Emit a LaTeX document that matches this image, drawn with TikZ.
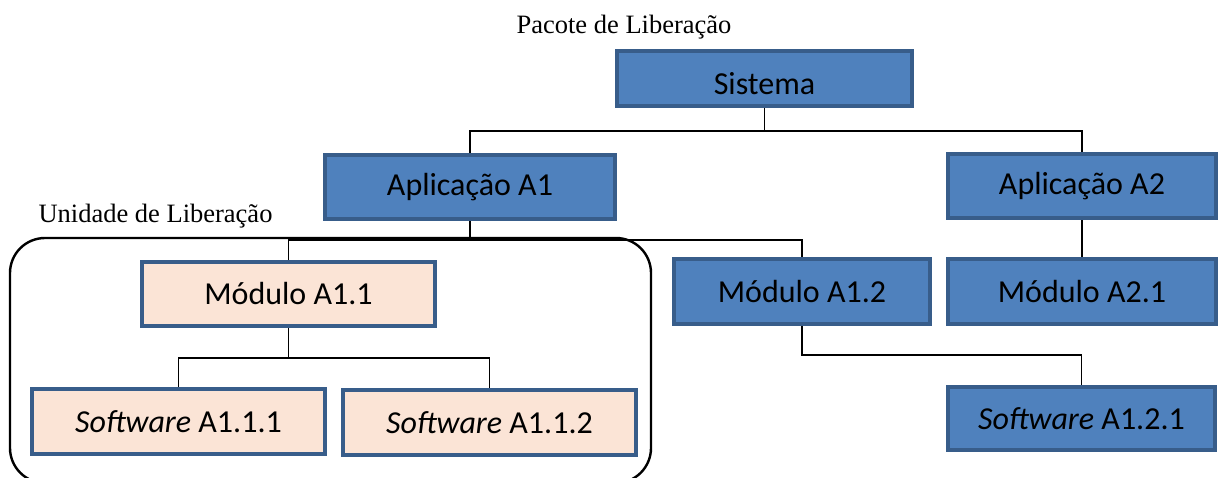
\documentclass[tikz,border=0pt]{standalone}
\usepackage{fontspec}
\setmainfont{Liberation Serif}
\newfontfamily\boxfont{Carlito}
\usetikzlibrary{calc}
\definecolor{boxblue}{HTML}{4F81BD}
\definecolor{boxedge}{HTML}{385D8A}
\definecolor{boxpeach}{HTML}{FBE4D6}
\tikzset{
  unitbox/.style={draw=boxedge, line width=4pt, inner sep=0pt, fill=boxblue,
    font=\boxfont\fontsize{32}{38}\selectfont, text=black},
  relbox/.style={unitbox, fill=boxpeach},
  wire/.style={draw=black, line width=1.6pt},
  caption/.style={font=\fontsize{26.5}{30}\selectfont, inner sep=0pt},
  group/.style={draw=black, line width=2.4pt, rounded corners=35pt, inner sep=0pt}
}
\begin{document}
\begin{tikzpicture}[x=1pt, y=-1pt]
\useasboundingbox (0,0) rectangle (1219,477);
\clip (0,0) rectangle (1219,477);

% release unit frame
\node[group, minimum width=641pt, minimum height=245pt] (unit) at (330.5,360.5) {};

% captions
\node[caption] (pkglabel) at (624,27) {Pacote de Liberação};
\node[caption] (unitlabel) at (155.5,216) {Unidade de Liberação};

% boxes
\node[unitbox, minimum width=295pt, minimum height=55pt, text height=31pt, text depth=0pt] (sys) at (764.5,78.5) {Sistema};
\node[unitbox, minimum width=290pt, minimum height=64pt] (a1) at (470,187) {Aplicação A1};
\node[unitbox, minimum width=268pt, minimum height=64pt] (a2) at (1082,186) {Aplicação A2};
\node[relbox, minimum width=293pt, minimum height=64pt] (m11) at (288.5,294) {Módulo A1.1};
\node[unitbox, minimum width=256pt, minimum height=65pt] (m12) at (802,291.5) {Módulo A1.2};
\node[unitbox, minimum width=268pt, minimum height=65pt] (m21) at (1082,291.5) {Módulo A2.1};
\node[relbox, minimum width=293pt, minimum height=65pt] (s111) at (178.5,421.5) {\textit{Software} A1.1.1};
\node[relbox, minimum width=293pt, minimum height=65pt] (s112) at (489.5,422.5) {\textit{Software} A1.1.2};
\node[unitbox, minimum width=267pt, minimum height=63pt] (s121) at (1081.5,418.5) {\textit{Software} A1.2.1};

% connectors
\draw[wire] (sys.south) -- (sys.south |- 0,131);
\draw[wire] (a1.north) -- (a1.north |- 0,131) -- (a2.north |- 0,131) -- (a2.north);
\draw[wire] (a1.south) -- (a1.south |- 0,240);
\draw[wire] (m11.north) -- (m11.north |- 0,240) -- (m12.north |- 0,240) -- (m12.north);
\draw[wire] (a2.south) -- (m21.north);
\draw[wire] (m11.south) -- (m11.south |- 0,358);
\draw[wire] (s111.north) -- (s111.north |- 0,358) -- (s112.north |- 0,358) -- (s112.north);
\draw[wire] (m12.south) -- (m12.south |- 0,355) -- (s121.north |- 0,355) -- (s121.north);
\end{tikzpicture}
\end{document}
